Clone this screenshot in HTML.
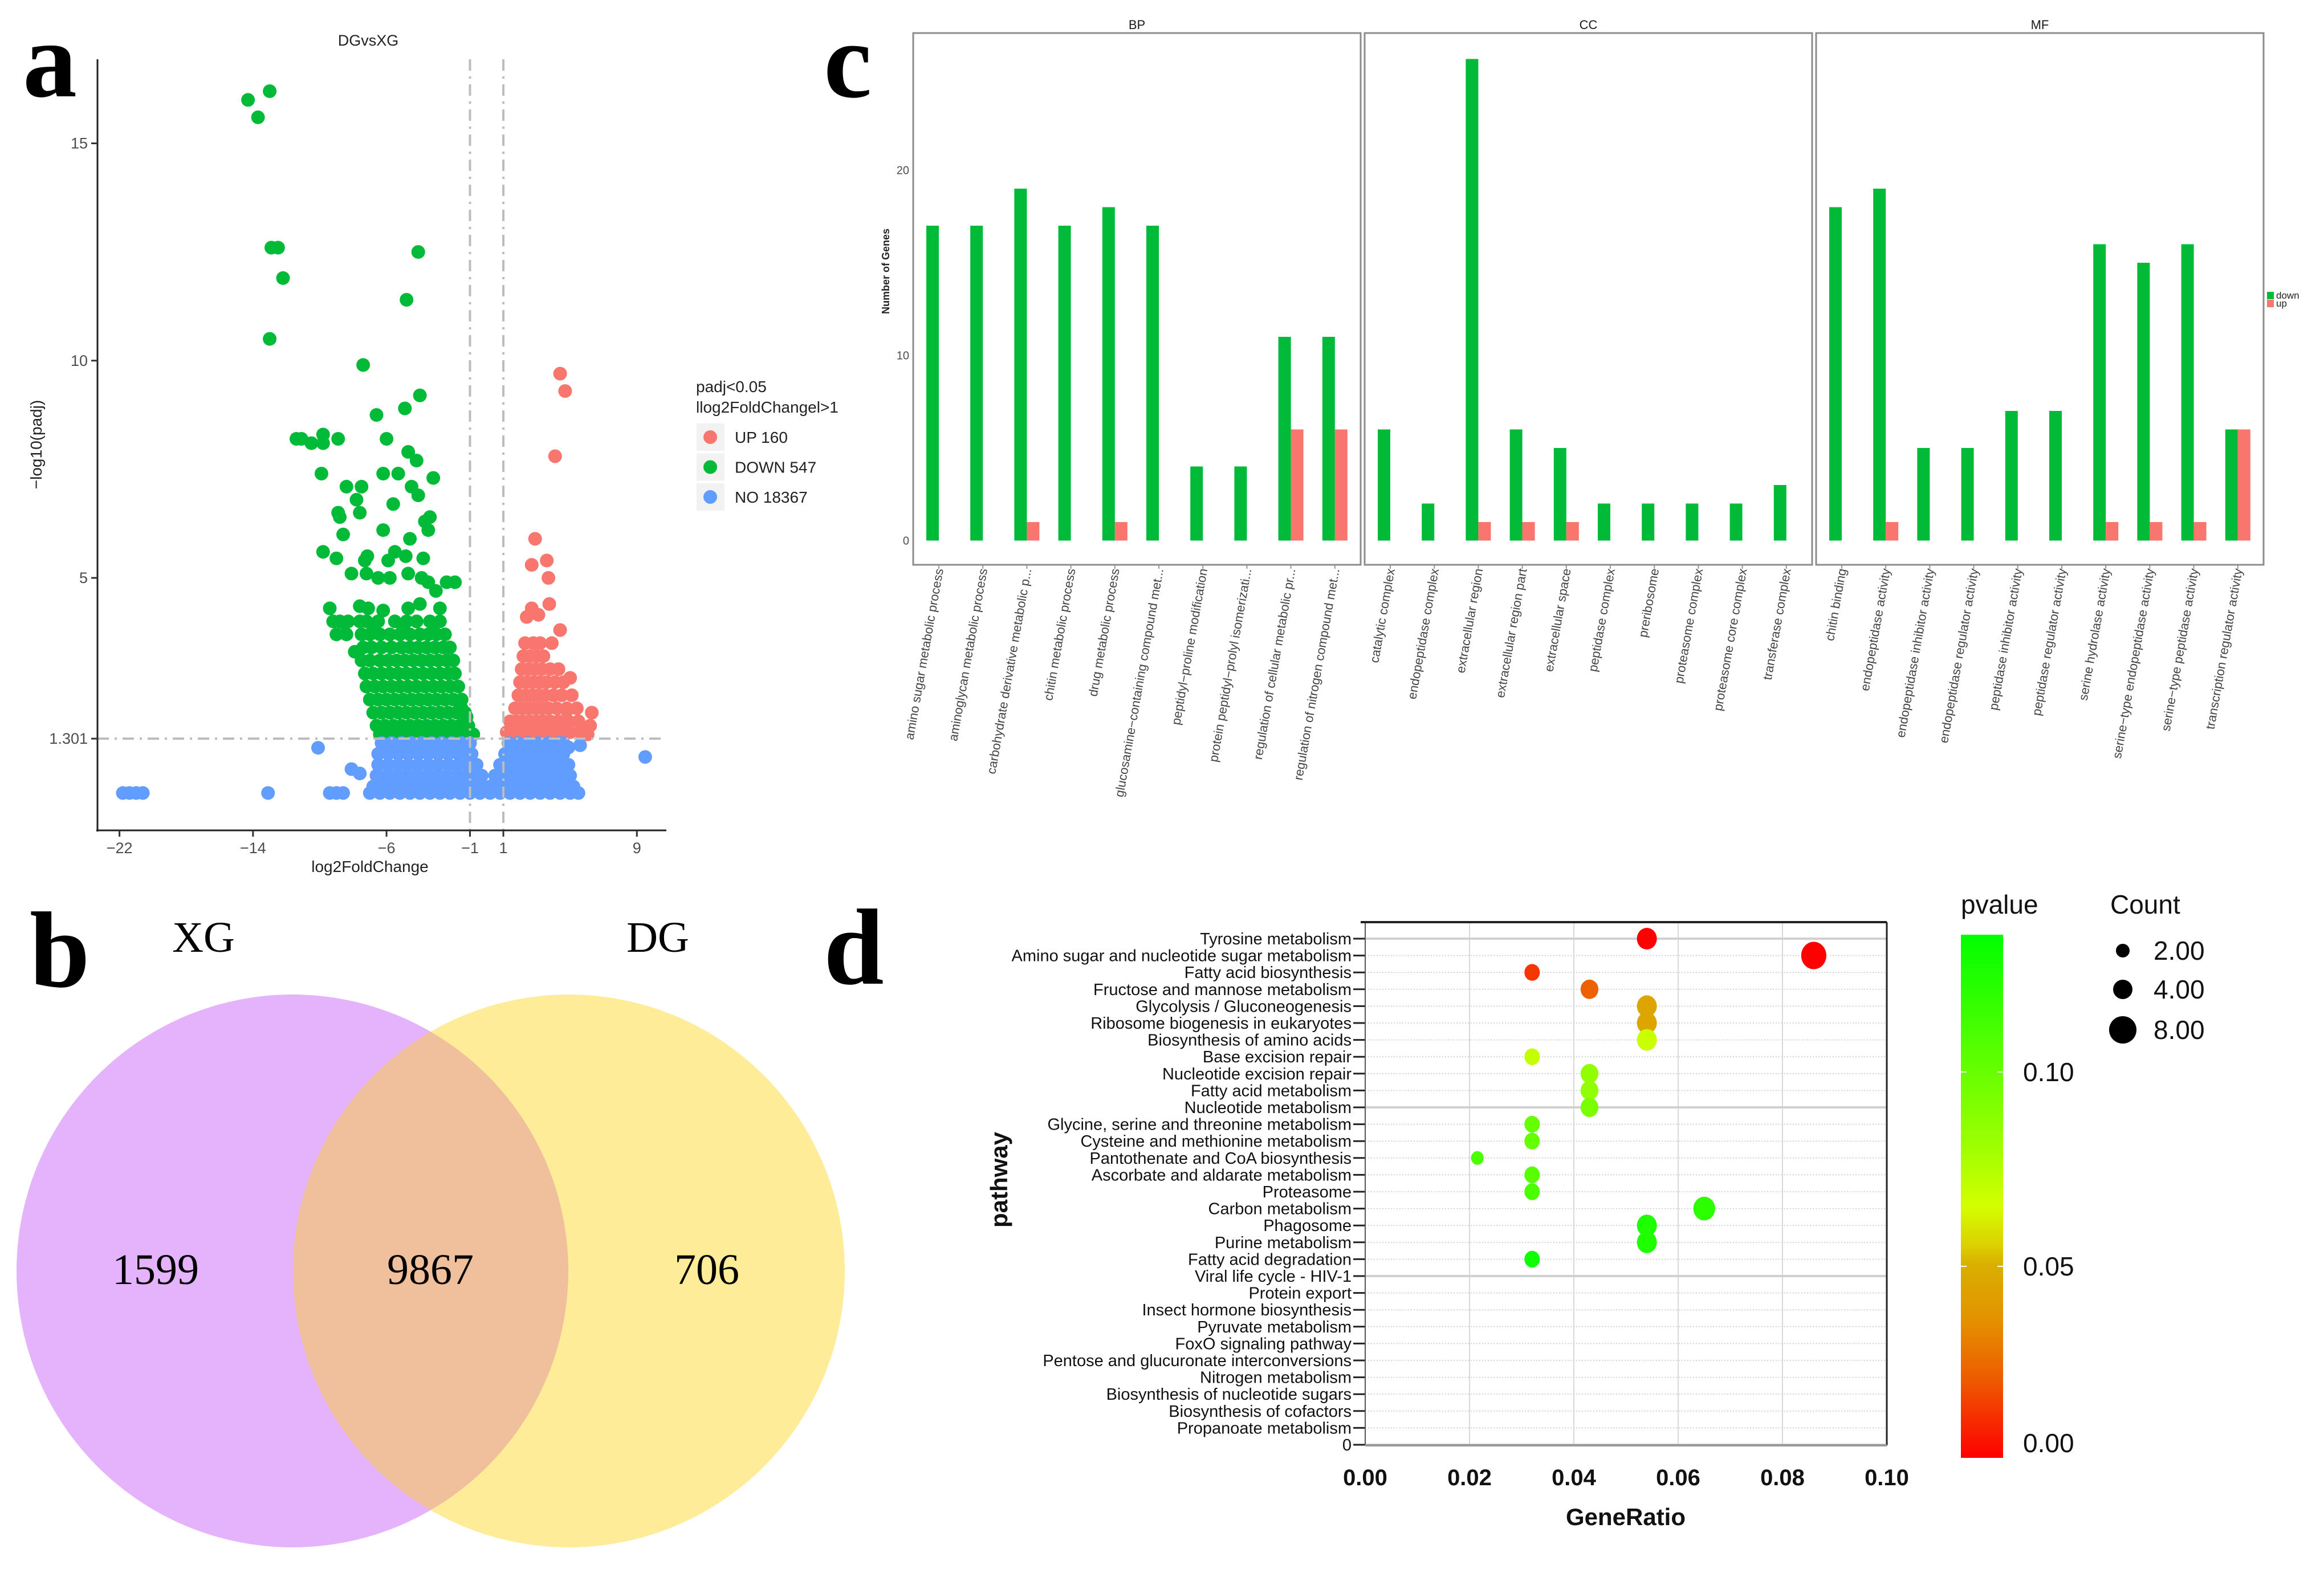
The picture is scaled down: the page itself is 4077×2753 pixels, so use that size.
<!DOCTYPE html>
<html><head><meta charset="utf-8"><style>
html,body{margin:0;padding:0;background:#fff;}
svg{display:block;font-family:"Liberation Sans",Arial,sans-serif;}
</style></head><body>
<svg id="fig" width="4077" height="2753" viewBox="0 0 4077 2753" xmlns="http://www.w3.org/2000/svg">
<defs>
<linearGradient id="pgrad" x1="0" y1="1" x2="0" y2="0">
<stop offset="0" stop-color="#ff0000"/><stop offset="0.148" stop-color="#ee5a00"/><stop offset="0.259" stop-color="#e49000"/><stop offset="0.37" stop-color="#d9b000"/><stop offset="0.406" stop-color="#dcd000"/><stop offset="0.48" stop-color="#d4ff00"/><stop offset="0.59" stop-color="#a0ff00"/><stop offset="0.74" stop-color="#66ff00"/><stop offset="1" stop-color="#00ff00"/>
</linearGradient>
<clipPath id="leftClip"><ellipse cx="513" cy="2230" rx="484" ry="485"/></clipPath>
</defs>
<text x="40" y="169" font-family="Liberation Serif,serif" font-weight="bold" font-size="190">a</text>
<text x="52" y="1731" font-family="Liberation Serif,serif" font-weight="bold" font-size="190">b</text>
<text x="1445" y="170" font-family="Liberation Serif,serif" font-weight="bold" font-size="190">c</text>
<text x="1445" y="1726" font-family="Liberation Serif,serif" font-weight="bold" font-size="190">d</text>

<g>
<ellipse cx="513" cy="2230" rx="484" ry="485" fill="#e4b3fb"/>
<ellipse cx="998" cy="2230" rx="484" ry="485" fill="#feec99"/>
<ellipse cx="998" cy="2230" rx="484" ry="485" fill="#efc09b" clip-path="url(#leftClip)"/>
<text x="357" y="1670" font-family="Liberation Serif,serif" font-size="76" text-anchor="middle">XG</text>
<text x="1154" y="1670" font-family="Liberation Serif,serif" font-size="76" text-anchor="middle">DG</text>
<text x="273" y="2253" font-family="Liberation Serif,serif" font-size="76" text-anchor="middle">1599</text>
<text x="755" y="2253" font-family="Liberation Serif,serif" font-size="76" text-anchor="middle">9867</text>
<text x="1240" y="2253" font-family="Liberation Serif,serif" font-size="76" text-anchor="middle">706</text>
</g>
<g id="volcano"></g>
<g id="gobar"></g>
<g id="kegg"></g>
</svg>
<script>
const volcXTicks = [-22, -14, -6, -1, 1, 9];
const volcYTicks = [15, 10, 5, 1.301];
const greenPoints = [[-14.3,16.0],[-13.0,16.2],[-13.7,15.6],[-12.9,12.6],[-12.5,12.6],[-12.2,11.9],[-13.0,10.5],[-4.1,12.5],[-4.8,11.4],[-7.4,9.9],[-4.0,9.2],[-6.6,8.75],[-4.9,8.9],[-11.4,8.2],[-11.1,8.2],[-10.5,8.1],[-9.8,8.3],[-9.8,8.1],[-8.9,8.2],[-6.0,8.2],[-4.7,7.9],[-4.2,7.7],[-9.9,7.4],[-6.2,7.4],[-5.3,7.4],[-3.2,7.3],[-8.4,7.1],[-7.5,7.1],[-4.5,7.1],[-7.8,6.8],[-5.6,6.7],[-4.1,6.9],[-8.9,6.5],[-8.8,6.4],[-7.6,6.5],[-3.4,6.4],[-3.7,6.3],[-6.2,6.1],[-3.5,6.1],[-8.6,6.0],[-4.6,5.9],[-9.8,5.6],[-9.0,5.45],[-7.15,5.5],[-7.3,5.4],[-5.5,5.6],[-4.85,5.5],[-3.8,5.45],[-5.9,5.4],[-8.1,5.1],[-7.2,5.1],[-6.5,5.0],[-5.8,5.0],[-4.7,5.1],[-3.9,5.0],[-3.5,4.9],[-3.04,4.7],[-2.4,4.9],[-1.9,4.9],[-9.4,4.3],[-7.6,4.35],[-7.1,4.3],[-6.2,4.25],[-4.7,4.3],[-4.0,4.4],[-2.8,4.3],[-8.5,3.95],[-7.9,3.3],[-6.8,3.9],[-5.0,3.85],[-3.2,3.75],[-1.5,2.0],[-1.2,1.8]];
const greenRowY = [4.0, 3.7, 3.4, 3.1, 2.8, 2.5, 2.2, 1.9, 1.6, 1.4];
const greenRowX = [
 [-9.2,-8.8,-8.3,-7.6,-7.2,-6.5,-5.5,-4.8,-4.2,-3.4,-2.8],
 [-9.0,-8.4,-7.5,-7.0,-6.4,-5.8,-5.2,-4.6,-4.0,-3.5,-3.0,-2.5],
 [-7.4,-6.9,-6.3,-5.7,-5.1,-4.6,-4.1,-3.6,-3.1,-2.6,-2.2],
 [-7.5,-7.0,-6.4,-5.9,-5.4,-4.9,-4.4,-3.9,-3.4,-2.9,-2.4,-2.0],
 [-7.3,-6.8,-6.3,-5.8,-5.3,-4.8,-4.3,-3.8,-3.3,-2.8,-2.3,-1.9],
 [-7.2,-6.7,-6.2,-5.7,-5.2,-4.7,-4.2,-3.7,-3.2,-2.7,-2.2,-1.7],
 [-7.0,-6.5,-6.0,-5.5,-5.0,-4.5,-4.0,-3.5,-3.0,-2.5,-2.0,-1.5],
 [-6.8,-6.3,-5.8,-5.3,-4.8,-4.3,-3.8,-3.3,-2.8,-2.3,-1.8,-1.3],
 [-6.6,-6.1,-5.6,-5.1,-4.6,-4.1,-3.6,-3.1,-2.6,-2.1,-1.6,-1.1],
 [-6.4,-5.8,-5.2,-4.6,-4.0,-3.4,-2.8,-2.2,-1.6,-1.0,-0.8]
];
const redPoints = [[4.4,9.7],[4.7,9.3],[4.1,7.8],[2.9,5.9],[2.7,5.3],[3.6,5.4],[3.7,5.0],[3.75,4.4],[2.7,4.3],[3.1,4.15],[2.4,4.1],[4.4,3.8],[3.9,3.5],[5.0,2.7],[6.3,1.9],[6.2,1.6],[6.05,1.4],[4.8,1.95]];
const redRowY = [3.5, 3.2, 2.9, 2.6, 2.3, 2.0, 1.7, 1.45];
const redRowX = [
 [2.3,2.8,3.2],
 [2.2,2.6,3.0,3.4],
 [2.1,2.5,2.9,3.3,3.8,4.3],
 [2.0,2.4,2.8,3.2,3.6,4.1,4.6],
 [1.9,2.3,2.7,3.1,3.5,4.0,4.5,5.1],
 [1.7,2.1,2.5,2.9,3.3,3.7,4.2,4.8,5.4],
 [1.4,1.8,2.2,2.6,3.0,3.4,3.8,4.3,4.9,5.5],
 [1.2,1.6,2.0,2.4,2.8,3.2,3.6,4.0,4.5,5.0,5.6]
];
const bluePoints = [[-21.8,0.05],[-21.4,0.05],[-21.0,0.05],[-20.6,0.05],[-13.1,0.05],[-9.4,0.05],[-9.0,0.05],[-8.6,0.05],[-10.1,1.09],[9.5,0.88],[-8.1,0.6],[-7.6,0.5],[4.9,1.1],[5.6,1.15],[4.6,0.45]];
const blueRowY = [1.2, 0.95, 0.7, 0.45, 0.2, 0.05];
const blueRowX = [
 [-6.3,-5.7,-5.1,-4.5,-3.9,-3.3,-2.7,-2.1,-1.5,-1.0,1.3,1.9,2.5,3.1,3.7,4.3,4.6],
 [-6.5,-5.9,-5.3,-4.7,-4.1,-3.5,-2.9,-2.3,-1.7,-1.2,-0.9,1.1,1.6,2.2,2.8,3.4,4.0,4.6],
 [-6.5,-5.9,-5.3,-4.7,-4.1,-3.5,-2.9,-2.3,-1.7,-1.1,-0.6,0.8,1.3,1.9,2.5,3.1,3.7,4.3,4.9],
 [-6.6,-6.0,-5.4,-4.8,-4.2,-3.6,-3.0,-2.4,-1.8,-1.2,-0.7,-0.3,0.5,1.0,1.6,2.2,2.8,3.4,4.0,4.6,5.0],
 [-6.8,-6.2,-5.6,-5.0,-4.4,-3.8,-3.2,-2.6,-2.0,-1.4,-0.8,-0.3,0.2,0.7,1.2,1.8,2.4,3.0,3.6,4.2,4.8,5.2],
 [-7.0,-6.4,-5.8,-5.2,-4.6,-4.0,-3.4,-2.8,-2.2,-1.6,-1.0,-0.4,0.2,0.8,1.4,2.0,2.6,3.2,3.8,4.4,5.0,5.5]
];
const volcLegendLabels = ["UP 160", "DOWN 547", "NO 18367"];
const volcThresholdFC = [-1, 1];
const volcThresholdP = 1.301;

const goPanels = ["BP", "CC", "MF"];
const goTerms = [
 ["amino sugar metabolic process","aminoglycan metabolic process","carbohydrate derivative metabolic p...","chitin metabolic process","drug metabolic process","glucosamine\u2212containing compound met...","peptidyl\u2212proline modification","protein peptidyl\u2212prolyl isomerizati...","regulation of cellular metabolic pr...","regulation of nitrogen compound met..."],
 ["catalytic complex","endopeptidase complex","extracellular region","extracellular region part","extracellular space","peptidase complex","preribosome","proteasome complex","proteasome core complex","transferase complex"],
 ["chitin binding","endopeptidase activity","endopeptidase inhibitor activity","endopeptidase regulator activity","peptidase inhibitor activity","peptidase regulator activity","serine hydrolase activity","serine\u2212type endopeptidase activity","serine\u2212type peptidase activity","transcription regulator activity"]
];
const goDown = [[17,17,19,17,18,17,4,4,11,11],[6,2,26,6,5,2,2,2,2,3],[18,19,5,5,7,7,16,15,16,6]];
const goUp = [[0,0,1,0,1,0,0,0,6,6],[0,0,1,1,1,0,0,0,0,0],[0,1,0,0,0,0,1,1,1,6]];
const goYTicks = [0, 10, 20];

const keggPathways = ["Tyrosine metabolism","Amino sugar and nucleotide sugar metabolism","Fatty acid biosynthesis","Fructose and mannose metabolism","Glycolysis / Gluconeogenesis","Ribosome biogenesis in eukaryotes","Biosynthesis of amino acids","Base excision repair","Nucleotide excision repair","Fatty acid metabolism","Nucleotide metabolism","Glycine, serine and threonine metabolism","Cysteine and methionine metabolism","Pantothenate and CoA biosynthesis","Ascorbate and aldarate metabolism","Proteasome","Carbon metabolism","Phagosome","Purine metabolism","Fatty acid degradation","Viral life cycle - HIV-1","Protein export","Insect hormone biosynthesis","Pyruvate metabolism","FoxO signaling pathway","Pentose and glucuronate interconversions","Nitrogen metabolism","Biosynthesis of nucleotide sugars","Biosynthesis of cofactors","Propanoate metabolism","0"];
const keggRatio = [0.054,0.086,0.032,0.043,0.054,0.054,0.054,0.032,0.043,0.043,0.043,0.032,0.032,0.0215,0.032,0.032,0.065,0.054,0.054,0.032];
const keggCount = [5,8,3,4,5,5,5,3,4,4,4,3,3,2,3,3,6,5,5,3];
const keggPvalue = [0.0,0.0,0.012,0.022,0.045,0.045,0.068,0.07,0.085,0.085,0.093,0.10,0.10,0.11,0.105,0.11,0.12,0.125,0.125,0.13];
const keggXTicks = [0, 0.02, 0.04, 0.06, 0.08, 0.10];
const keggPTicks = [0.00, 0.05, 0.10];
const keggCountLegend = [2, 4, 8];

const NS = "http://www.w3.org/2000/svg";
function mk(tag, attrs, parent) {
  const e = document.createElementNS(NS, tag);
  for (const k in attrs) e.setAttribute(k, attrs[k]);
  parent.appendChild(e);
  return e;
}

(function(){
  const g = document.getElementById("volcano");
  const X = v => 209.6 + (v + 22) * 29.28;
  const Y = v => 1014 - (v - 5) * 76.25;
  const R = 12;
  let el;
  el = mk("text", {x:646, y:80, "font-size":27, "text-anchor":"middle", fill:"#222"}, g);
  el.textContent = "DGvsXG";
  
  
  function dot(x, y, c, name) {
    const d = mk("circle", {cx:X(x).toFixed(1), cy:Y(y).toFixed(1), r:R, fill:c}, g);
    
    
  }
  greenPoints.forEach(p => dot(p[0], p[1], "#00ba38", "down-gene-point"));
  greenRowY.forEach((y, i) => greenRowX[i].forEach(x => dot(x, y, "#00ba38", "down-gene-point")));
  redPoints.forEach(p => dot(p[0], p[1], "#f8766d", "up-gene-point"));
  redRowY.forEach((y, i) => redRowX[i].forEach(x => dot(x, y, "#f8766d", "up-gene-point")));
  blueRowY.forEach((y, i) => blueRowX[i].forEach(x => dot(x, y, "#619cff", "ns-gene-point")));
  bluePoints.forEach(p => dot(p[0], p[1], "#619cff", "ns-gene-point"));
  volcThresholdFC.forEach(v => {
    el = mk("line", {x1:X(v), x2:X(v), y1:104, y2:1457, stroke:"#bdbdbd", "stroke-width":4, "stroke-dasharray":"20 10 4 10"}, g);
    
    
  });
  el = mk("line", {x1:171, x2:1169, y1:Y(volcThresholdP), y2:Y(volcThresholdP), stroke:"#bdbdbd", "stroke-width":4, "stroke-dasharray":"20 10 4 10"}, g);
  
  
  el = mk("line", {x1:171, x2:171, y1:104, y2:1459, stroke:"#222", "stroke-width":3}, g);
  
  
  el = mk("line", {x1:169, x2:1169, y1:1457, y2:1457, stroke:"#222", "stroke-width":3}, g);
  
  
  volcXTicks.forEach(v => {
    el = mk("line", {x1:X(v), x2:X(v), y1:1457, y2:1468, stroke:"#333", "stroke-width":3}, g);
    
    
    el = mk("text", {x:X(v), y:1497, "font-size":27, "text-anchor":"middle", fill:"#4d4d4d"}, g);
    el.textContent = v < 0 ? "\u2212" + Math.abs(v) : String(v);
    
    
  });
  volcYTicks.forEach(v => {
    el = mk("line", {x1:160, x2:171, y1:Y(v), y2:Y(v), stroke:"#333", "stroke-width":3}, g);
    
    
    el = mk("text", {x:154, y:Y(v) + 9, "font-size":27, "text-anchor":"end", fill:"#4d4d4d"}, g);
    el.textContent = String(v);
    
    
  });
  el = mk("text", {x:649, y:1530, "font-size":28, "text-anchor":"middle", fill:"#222"}, g);
  el.textContent = "log2FoldChange";
  
  
  el = mk("text", {x:0, y:0, "font-size":28, "text-anchor":"middle", fill:"#222", transform:"translate(73,780) rotate(-90)"}, g);
  el.textContent = "\u2212log10(padj)";
  
  
  el = mk("text", {x:1221, y:688, "font-size":28, fill:"#222"}, g);
  el.textContent = "padj<0.05";
  
  
  el = mk("text", {x:1221, y:724, "font-size":28, fill:"#222"}, g);
  el.textContent = "llog2FoldChangel>1";
  
  
  const lc = ["#f8766d", "#00ba38", "#619cff"];
  volcLegendLabels.forEach((t, i) => {
    const cy = 767 + i * 52.5;
    el = mk("rect", {x:1222, y:cy - 24, width:49, height:48, fill:"#f2f2f2"}, g);
    
    
    el = mk("circle", {cx:1246, cy:cy, r:12, fill:lc[i]}, g);
    
    
    el = mk("text", {x:1289, y:cy + 10, "font-size":28, fill:"#222"}, g);
    el.textContent = t;
    
    
  });
})();

(function(){
  const g = document.getElementById("gobar");
  const lefts = [1602, 2394, 3186], W = 785, top = 58, bottom = 991;
  const Y = v => 948.5 - 32.5 * v;
  const step = 77.2, off = 45, bw = 22;
  let el;
  goPanels.forEach((p, pi) => {
    const L = lefts[pi];
    el = mk("text", {x:L + W / 2, y:51, "font-size":22, "text-anchor":"middle", fill:"#1a1a1a"}, g);
    el.textContent = p;
    
    
    goDown[pi].forEach((v, i) => {
      const cx = L + off + i * step;
      el = mk("rect", {x:cx - bw, y:Y(v), width:bw, height:Y(0) - Y(v), fill:"#00ba38"}, g);
      
      
      const u = goUp[pi][i];
      if (u > 0) {
        el = mk("rect", {x:cx, y:Y(u), width:bw, height:Y(0) - Y(u), fill:"#f8766d"}, g);
        
        
      }
      el = mk("line", {x1:cx, x2:cx, y1:bottom, y2:bottom + 7, stroke:"#999", "stroke-width":2}, g);
      
      
      el = mk("text", {x:0, y:0, "font-size":22, "text-anchor":"end", fill:"#444", transform:"translate(" + (cx + 8) + "," + (bottom + 8) + ") rotate(-80)"}, g);
      el.textContent = goTerms[pi][i];
      
      
    });
    el = mk("rect", {x:L, y:top, width:W, height:bottom - top, fill:"none", stroke:"#8c8c8c", "stroke-width":3}, g);
    
    
  });
  goYTicks.forEach(v => {
    el = mk("text", {x:1595, y:Y(v) + 7, "font-size":20, "text-anchor":"end", fill:"#4d4d4d"}, g);
    el.textContent = String(v);
    
    
  });
  el = mk("text", {x:0, y:0, "font-size":18, "font-weight":"bold", "text-anchor":"middle", fill:"#222", transform:"translate(1560,476) rotate(-90)"}, g);
  el.textContent = "Number of Genes";
  
  
  el = mk("rect", {x:3977, y:512, width:12, height:13, fill:"#00ba38"}, g);
  
  
  el = mk("rect", {x:3977, y:526, width:12, height:13, fill:"#f8766d"}, g);
  
  
  el = mk("text", {x:3993, y:524, "font-size":17, fill:"#222"}, g);
  el.textContent = "down";
  
  
  el = mk("text", {x:3993, y:538, "font-size":17, fill:"#222"}, g);
  el.textContent = "up";
  
  
})();

(function(){
  const g = document.getElementById("kegg");
  const L = 2395, R = 3310, T = 1618, B = 2536;
  const X = v => L + v / 0.10 * (R - L);
  const rowY = i => 1647 + i * 29.6;
  const stops = [[0,[255,0,0]],[0.02,[238,90,0]],[0.035,[228,144,0]],[0.05,[217,176,0]],[0.055,[220,208,0]],[0.065,[212,255,0]],[0.08,[160,255,0]],[0.10,[102,255,0]],[0.1353,[0,255,0]]];
  function pcol(p) {
    for (let i = 1; i < stops.length; i++) {
      if (p <= stops[i][0]) {
        const a = stops[i-1], b = stops[i], t = (p - a[0]) / (b[0] - a[0]);
        const c = a[1].map((v, k) => Math.round(v + (b[1][k] - v) * t));
        return "rgb(" + c.join(",") + ")";
      }
    }
    return "rgb(0,255,0)";
  }
  const rad = c => 8.5 * Math.sqrt(c);
  let el;
  keggXTicks.forEach(v => {
    el = mk("line", {x1:X(v), x2:X(v), y1:T, y2:B, stroke:"#d9d9d9", "stroke-width":2}, g);
    
    
  });
  keggPathways.forEach((name, i) => {
    const y = rowY(i);
    const major = (i % 10 === 0);
    el = mk("line", {x1:L, x2:R, y1:y, y2:y, stroke: major ? "#d0d0d0" : "#c8c8c8", "stroke-width": major ? 4 : 1.5, "stroke-dasharray": major ? "none" : "2 3"}, g);
    
    
    el = mk("line", {x1:L - 21, x2:L, y1:y, y2:y, stroke:"#222", "stroke-width":3}, g);
    
    
    el = mk("text", {x:L - 24, y:y + 10, "font-size":29, "text-anchor":"end", fill:"#111"}, g);
    el.textContent = name;
    
    
  });
  el = mk("line", {x1:L, x2:L, y1:T, y2:B, stroke:"#555", "stroke-width":2}, g);
  
  
  el = mk("line", {x1:L - 8, x2:R, y1:T, y2:T, stroke:"#222", "stroke-width":4}, g);
  
  
  el = mk("line", {x1:R, x2:R, y1:T, y2:B, stroke:"#222", "stroke-width":3}, g);
  
  
  el = mk("line", {x1:L, x2:R, y1:B, y2:B, stroke:"#999", "stroke-width":4}, g);
  
  
  keggRatio.forEach((r, i) => {
    el = mk("ellipse", {cx:X(r), cy:rowY(i), rx:rad(keggCount[i]) * 0.92, ry:rad(keggCount[i]), fill:pcol(keggPvalue[i])}, g);
    
    
  });
  keggXTicks.forEach(v => {
    el = mk("text", {x:X(v), y:2606, "font-size":40, "font-weight":"bold", "text-anchor":"middle", fill:"#111"}, g);
    el.textContent = v.toFixed(2);
    
    
  });
  el = mk("text", {x:2852, y:2676, "font-size":42, "font-weight":"bold", "text-anchor":"middle", fill:"#111"}, g);
  el.textContent = "GeneRatio";
  
  
  el = mk("text", {x:0, y:0, "font-size":42, "font-weight":"bold", "text-anchor":"middle", fill:"#111", transform:"translate(1767,2070) rotate(-90)"}, g);
  el.textContent = "pathway";
  
  
  const cbTop = 1640, cbBot = 2563, cbMax = 0.1353;
  const CY = v => cbBot - v / cbMax * (cbBot - cbTop);
  el = mk("rect", {x:3440, y:cbTop, width:74, height:2558 - cbTop, fill:"url(#pgrad)"}, g);
  
  
  el = mk("text", {x:3440, y:1603, "font-size":46, fill:"#111"}, g);
  el.textContent = "pvalue";
  
  
  keggPTicks.forEach(v => {
    const y = Math.min(CY(v), 2532);
    el = mk("text", {x:3549, y:y + 16, "font-size":46, fill:"#111"}, g);
    el.textContent = v.toFixed(2);
    
    
    if (v > 0) {
      el = mk("line", {x1:3440, x2:3450, y1:CY(v), y2:CY(v), stroke:"#fff", "stroke-width":2}, g);
      
      
      el = mk("line", {x1:3504, x2:3514, y1:CY(v), y2:CY(v), stroke:"#fff", "stroke-width":2}, g);
      
      
    }
  });
  el = mk("text", {x:3702, y:1603, "font-size":46, fill:"#111"}, g);
  el.textContent = "Count";
  
  
  const cly = [1668, 1736, 1807];
  keggCountLegend.forEach((c, i) => {
    el = mk("circle", {cx:3724, cy:cly[i], r:rad(c)}, g);
    
    
    el = mk("text", {x:3778, y:cly[i] + 16, "font-size":46, fill:"#111"}, g);
    el.textContent = c.toFixed(2);
    
    
  });
})();
</script>
</body></html>
